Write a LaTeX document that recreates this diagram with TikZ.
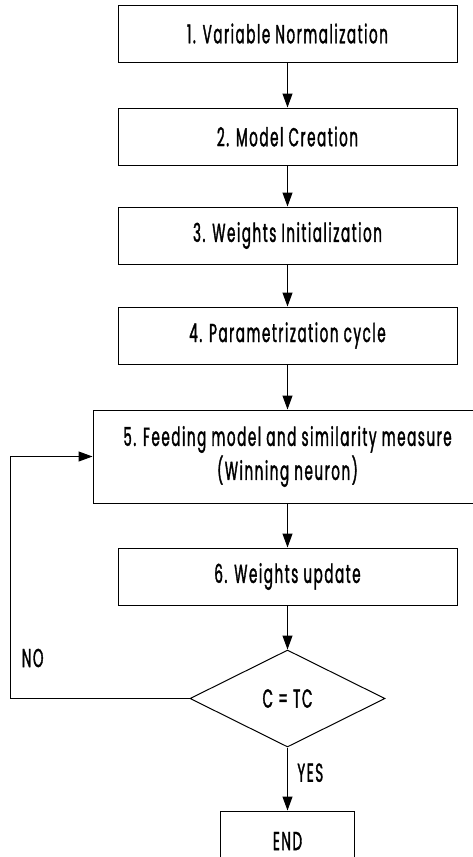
\documentclass[tikz,border=0pt]{standalone}
\usepackage{fontspec}
\setmainfont[FakeStretch=0.52,FakeBold=1.3,LetterSpace=6]{Poppins}
\usetikzlibrary{shapes,positioning,arrows.meta}
\tikzstyle{rec} = [rectangle,draw,text centered,minimum width=339pt,minimum height=57pt,inner sep=2pt]
\tikzstyle{dec} = [diamond,draw,minimum width=195pt,minimum height=97pt,inner sep=0pt]
\tikzstyle{arr} = [-{Triangle[length=14pt,width=10pt]}]

\begin{document}
\begin{tikzpicture}[x=1pt,y=-1pt,line width=1pt,node distance=43pt,font=\fontsize{26}{34}\selectfont]
	\useasboundingbox (0,0) rectangle (473,857);

	\node[rec](norm) at (287.5,33.5) {1. Variable Normalization};
	\node[rec,below=45pt of norm](creation) {2. Model Creation};
	\node[rec,below=41pt of creation](init) {3. Weights Initialization};
	\node[rec,below=42pt of init](cycle) {4. Parametrization cycle};
	\node[rec,align=center,minimum width=389pt,minimum height=93pt,below=45pt of cycle](feed) {5. Feeding model and similarity measure\\(Winning neuron)};
	\node[rec,below=44pt of feed](update) {6. Weights update};
	\node[dec,below=44pt of update](test) {C = TC};
	\node[rec,minimum width=134pt,minimum height=60pt,below=63pt of test](end) {END};
	\coordinate (loop) at (10,452);

	\draw[arr] (norm) -- (creation);
	\draw[arr] (creation) -- (init);
	\draw[arr] (init) -- (cycle);
	\draw[arr] (cycle) -- (feed);
	\draw[arr] (feed) -- (update);
	\draw[arr] (update) -- (test);
	\draw[arr] (test) -- node[right=6pt,pos=0.4]{YES} (end);
	\draw[arr] (test.west) -- (test.west -| loop) |- (feed.west);

	\node[right] (no) at (18,658) {NO};

\end{tikzpicture}
\end{document}
